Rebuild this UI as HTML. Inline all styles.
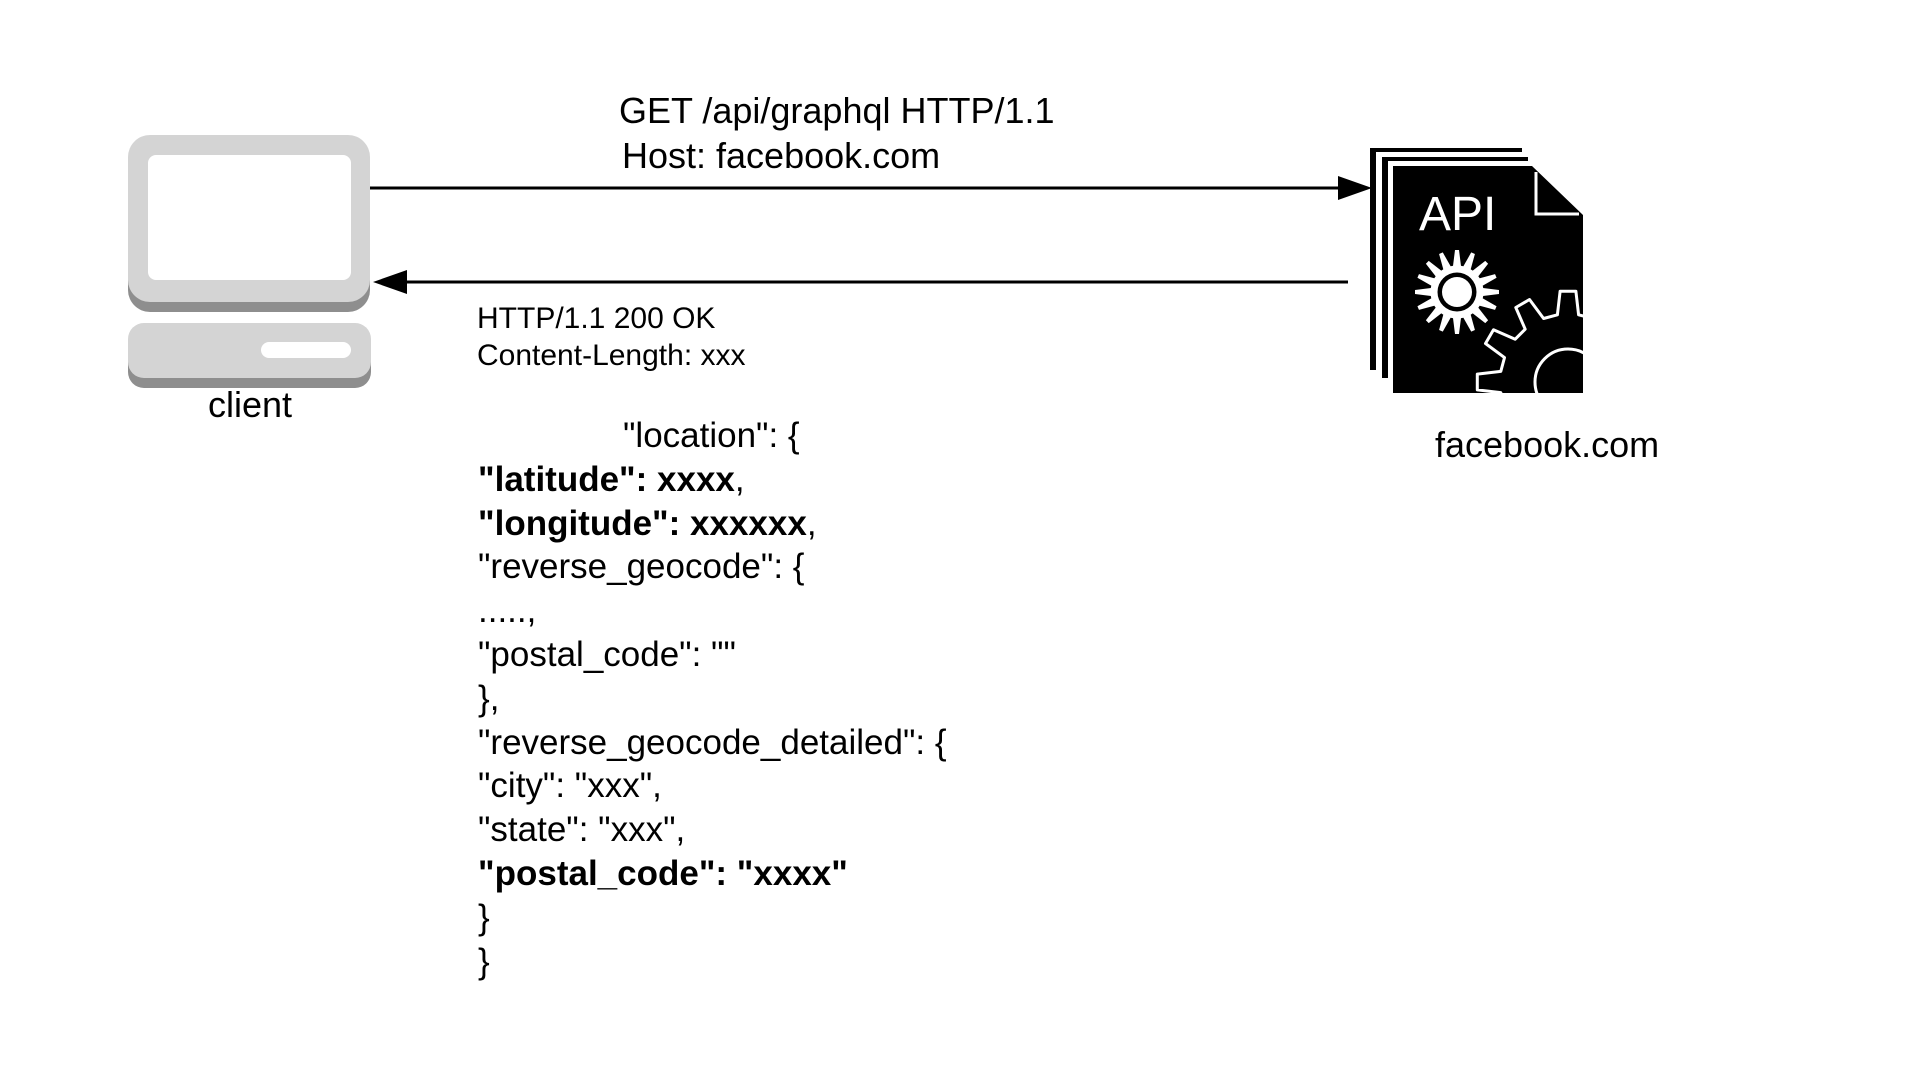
<!DOCTYPE html>
<html>
<head>
<meta charset="utf-8">
<style>
  html, body { margin:0; padding:0; background:#fff; }
  body { width:1920px; height:1080px; overflow:hidden; }
  svg { display:block; }
  text { font-family: "Liberation Sans", Arial, sans-serif; fill:#000; }
</style>
</head>
<body>
<svg width="1920" height="1080" viewBox="0 0 1920 1080" xmlns="http://www.w3.org/2000/svg">
  <defs>
    <clipPath id="pageclip">
      <path d="M1393,166 L1532,166 L1583,215 L1583,393 L1393,393 Z"/>
    </clipPath>
  </defs>
  <rect width="1920" height="1080" fill="#fff"/>

  <!-- Client monitor -->
  <rect x="128" y="145" width="242" height="167" rx="22" ry="22" fill="#8e8e8e"/>
  <rect x="128" y="135" width="242" height="167" rx="22" ry="22" fill="#d4d4d4"/>
  <rect x="148" y="155" width="203" height="125" rx="8" ry="8" fill="#ffffff"/>
  <!-- Client base -->
  <rect x="128" y="333" width="243" height="55" rx="16" ry="16" fill="#8e8e8e"/>
  <rect x="128" y="323" width="243" height="55" rx="16" ry="16" fill="#d4d4d4"/>
  <rect x="261" y="342" width="90" height="16" rx="8" ry="8" fill="#ffffff"/>
  <text x="250" y="417" font-size="36" text-anchor="middle">client</text>

  <!-- Request arrow -->
  <line x1="370" y1="188" x2="1342" y2="188" stroke="#000" stroke-width="3"/>
  <polygon points="1372,188 1338,176 1338,200" fill="#000"/>
  <!-- Response arrow -->
  <line x1="1348" y1="282" x2="403" y2="282" stroke="#000" stroke-width="3"/>
  <polygon points="373,282 407,270 407,294" fill="#000"/>

  <!-- Request labels -->
  <text x="619" y="123" font-size="36">GET /api/graphql HTTP/1.1</text>
  <text x="622" y="168" font-size="36">Host: facebook.com</text>

  <!-- Response labels -->
  <text x="477" y="328" font-size="30">HTTP/1.1 200 OK</text>
  <text x="477" y="365" font-size="30">Content-Length: xxx</text>

  <g font-size="35">
    <text x="623" y="447">"location": {</text>
    <text x="478" y="491" font-weight="bold">"latitude": xxxx<tspan font-weight="normal">,</tspan></text>
    <text x="478" y="535" font-weight="bold">"longitude": xxxxxx<tspan font-weight="normal">,</tspan></text>
    <text x="478" y="578">"reverse_geocode": {</text>
    <text x="478" y="622">.....,</text>
    <text x="478" y="666">"postal_code": ""</text>
    <text x="478" y="710">},</text>
    <text x="478" y="754">"reverse_geocode_detailed": {</text>
    <text x="478" y="797">"city": "xxx",</text>
    <text x="478" y="841">"state": "xxx",</text>
    <text x="478" y="885" font-weight="bold">"postal_code": "xxxx"</text>
    <text x="478" y="929">}</text>
    <text x="478" y="973">}</text>
  </g>

  <!-- API document icon -->
  <rect x="1370" y="148" width="6" height="222" fill="#000"/>
  <rect x="1370" y="148" width="152" height="4" fill="#000"/>
  <rect x="1382" y="157" width="6" height="221" fill="#000"/>
  <rect x="1382" y="157" width="146" height="4" fill="#000"/>
  <path d="M1393,166 L1532,166 L1583,215 L1583,393 L1393,393 Z" fill="#000"/>
  <polyline points="1536,172 1536,214 1579,214" fill="none" stroke="#fff" stroke-width="3"/>
  <text x="1419" y="230" font-size="48" style="fill:#fff">API</text>

  <!-- Small gear -->
  <g transform="translate(1457,292)" fill="#fff">
    <polygon points="-4.5,-22 4.5,-22 2,-42 -2,-42" transform="rotate(0)"/>
    <polygon points="-4.5,-22 4.5,-22 2,-42 -2,-42" transform="rotate(22.5)"/>
    <polygon points="-4.5,-22 4.5,-22 2,-42 -2,-42" transform="rotate(45)"/>
    <polygon points="-4.5,-22 4.5,-22 2,-42 -2,-42" transform="rotate(67.5)"/>
    <polygon points="-4.5,-22 4.5,-22 2,-42 -2,-42" transform="rotate(90)"/>
    <polygon points="-4.5,-22 4.5,-22 2,-42 -2,-42" transform="rotate(112.5)"/>
    <polygon points="-4.5,-22 4.5,-22 2,-42 -2,-42" transform="rotate(135)"/>
    <polygon points="-4.5,-22 4.5,-22 2,-42 -2,-42" transform="rotate(157.5)"/>
    <polygon points="-4.5,-22 4.5,-22 2,-42 -2,-42" transform="rotate(180)"/>
    <polygon points="-4.5,-22 4.5,-22 2,-42 -2,-42" transform="rotate(202.5)"/>
    <polygon points="-4.5,-22 4.5,-22 2,-42 -2,-42" transform="rotate(225)"/>
    <polygon points="-4.5,-22 4.5,-22 2,-42 -2,-42" transform="rotate(247.5)"/>
    <polygon points="-4.5,-22 4.5,-22 2,-42 -2,-42" transform="rotate(270)"/>
    <polygon points="-4.5,-22 4.5,-22 2,-42 -2,-42" transform="rotate(292.5)"/>
    <polygon points="-4.5,-22 4.5,-22 2,-42 -2,-42" transform="rotate(315)"/>
    <polygon points="-4.5,-22 4.5,-22 2,-42 -2,-42" transform="rotate(337.5)"/>
    <circle cx="0" cy="0" r="26.5" fill="#fff"/>
    <circle cx="0" cy="0" r="19.5" fill="#000"/>
    <circle cx="0" cy="0" r="15" fill="#fff"/>
  </g>

  <!-- Big gear outline (clipped to page) -->
  <g clip-path="url(#pageclip)" fill="none" stroke="#fff" stroke-width="3" stroke-linejoin="round">
    <path d="M1485.5,420.5 L1504.5,406.4 L1500.8,392.6 L1477.3,389.9 L1477.3,374.1 L1500.8,371.4
             L1504.5,357.6 L1485.5,343.5 L1493.5,329.8 L1515.2,339.2
             L1525.2,329.2 L1515.8,307.5 L1529.5,299.5 L1543.6,318.5
             L1557.4,314.8 L1560.1,291.3 L1575.9,291.3 L1578.6,314.8
             L1592.4,318.5 L1606.5,299.5"/>
    <circle cx="1568" cy="382" r="33"/>
  </g>

  <text x="1435" y="457" font-size="36">facebook.com</text>
</svg>
</body>
</html>
